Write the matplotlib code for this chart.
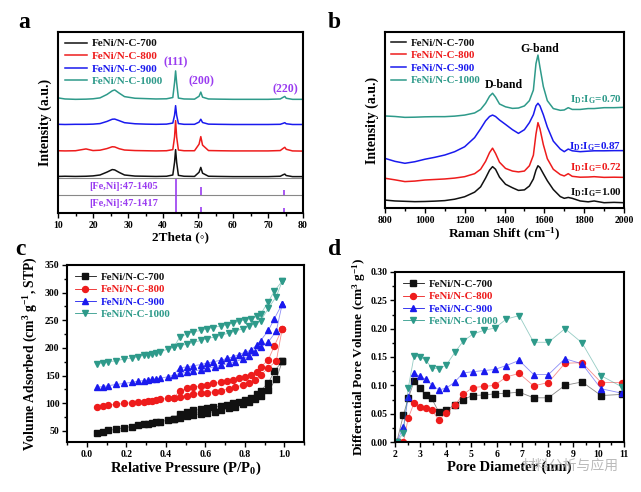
import matplotlib
matplotlib.use("Agg")
import matplotlib.pyplot as plt
from matplotlib.ticker import MultipleLocator

plt.rcParams['font.family'] = ['Liberation Serif', 'Noto Sans CJK SC', 'DejaVu Sans']
plt.rcParams['font.weight'] = 'bold'
plt.rcParams['axes.labelweight'] = 'bold'
plt.rcParams['mathtext.fontset'] = 'custom'
plt.rcParams['mathtext.rm'] = 'Liberation Serif:bold'
plt.rcParams['mathtext.it'] = 'Liberation Serif:bold'
plt.rcParams['mathtext.bf'] = 'Liberation Serif:bold'
plt.rcParams['mathtext.default'] = 'rm'

names = ["FeNi/N-C-700", "FeNi/N-C-800", "FeNi/N-C-900", "FeNi/N-C-1000"]
colors = ['#111111', '#ee1c1c', '#1a1aee', '#2e9a8a']
purple = '#9a3cf0'

# ---- panel a: XRD ----
xrd_x = [10, 12, 15, 18, 20, 22, 24, 25.5, 26.2, 27.5, 29, 32, 35, 38, 41, 42.8, 43.3, 43.6, 43.9, 44.4,
         46, 49, 50.3, 50.8, 51.3, 53, 56, 60, 65, 70, 73.5, 74.4, 74.8, 75.2, 77, 80]
xrd_700 = [20.2, 20.3, 20.2, 20.3, 20.5, 21.0, 22.6, 24.0, 23.8, 22.4, 21.0, 20.4, 20.3, 20.2, 20.3, 21.0, 28.0, 35.0, 28.0, 20.8,
           20.3, 20.2, 22.5, 25.2, 22.0, 20.3, 20.2, 20.1, 20.1, 20.1, 20.3, 21.2, 21.5, 20.7, 20.1, 20.1]
xrd_800 = [34.4, 34.3, 34.4, 35.4, 34.5, 34.7, 35.6, 36.6, 36.5, 35.5, 34.8, 34.5, 34.4, 34.3, 34.4, 35.0, 42.0, 51.0, 42.0, 34.8,
           34.4, 34.4, 38.0, 42.2, 37.5, 34.5, 34.4, 34.3, 34.3, 34.3, 34.5, 35.8, 36.3, 35.2, 34.3, 34.2]
xrd_900 = [49.0, 48.9, 49.0, 49.0, 49.1, 49.4, 50.6, 51.8, 51.9, 51.0, 49.9, 49.3, 49.1, 49.0, 49.1, 49.7, 54.0, 59.3, 54.0, 49.4,
           49.0, 49.0, 50.2, 51.8, 50.0, 49.1, 49.0, 48.9, 48.9, 48.9, 49.0, 49.6, 49.9, 49.3, 48.9, 48.9]
xrd_1000 = [63.6, 63.0, 62.8, 62.9, 63.1, 63.6, 65.5, 67.5, 68.0, 66.2, 64.3, 63.4, 63.2, 63.0, 63.1, 63.8, 72.0, 78.5, 72.0, 63.5,
            63.0, 62.9, 64.5, 66.8, 64.0, 63.0, 62.9, 62.8, 62.8, 62.8, 63.0, 64.0, 64.4, 63.4, 62.8, 62.8]
ref_peaks = [43.6, 50.8, 74.7]
ref_1405 = [19.0, 14.5, 12.5]
ref_1417 = [10.0, 3.5, 2.5]

# ---- panel b: Raman ----
ram_x = [800, 850, 900, 950, 1000, 1050, 1100, 1150, 1200, 1250, 1280, 1305, 1325, 1340, 1355, 1375, 1405, 1440, 1470,
         1500, 1525, 1545, 1558, 1568, 1578, 1595, 1615, 1645, 1680, 1700, 1720, 1740, 1780, 1820, 1850, 1900, 1950, 2000]
ram_700 = [4.5, 4.0, 3.8, 3.6, 3.7, 3.9, 4.2, 5.0, 6.4, 9.0, 12.0, 17.0, 21.5, 23.5, 22.0, 17.5, 13.5, 11.5, 10.0,
           10.3, 12.5, 16.5, 21.5, 24.0, 23.0, 19.5, 15.5, 10.5, 6.5, 5.5, 6.0, 5.5, 4.0, 3.5, 4.0, 3.0, 3.2, 3.0]
ram_800 = [16.9, 16.0, 15.0, 15.3, 15.9, 16.2, 16.5, 17.0, 17.8, 19.5, 22.0, 26.5, 31.5, 34.0, 31.0, 26.0, 22.5, 21.0, 20.5,
           21.0, 24.0, 30.0, 42.0, 48.5, 45.0, 36.0, 28.0, 22.0, 19.0, 18.2, 19.5, 18.0, 17.5, 17.6, 17.8, 17.4, 17.5, 17.4]
ram_900 = [28.2, 26.5, 25.4, 26.3, 27.7, 28.8, 30.1, 32.0, 34.8, 40.0, 45.0, 49.5, 52.0, 52.8, 52.0, 50.0, 47.5, 44.5, 42.4,
           44.5, 48.5, 53.0, 58.0, 59.5, 58.0, 53.0, 46.0, 38.0, 33.5, 32.0, 33.5, 32.5, 32.0, 32.3, 32.5, 32.5, 32.6, 32.6]
ram_1000 = [52.3, 52.0, 51.5, 51.6, 51.8, 51.9, 51.9, 52.2, 52.8, 54.0, 56.0, 59.5, 63.5, 65.2, 63.0, 59.1, 57.5, 56.6, 56.8,
            58.0, 61.0, 67.0, 82.0, 86.9, 80.0, 69.0, 61.0, 56.5, 55.5, 55.7, 57.0, 56.0, 56.0, 56.5, 56.5, 57.0, 57.0, 57.2]
ratio_labels = ["1.00", "0.72", "0.87", "0.70"]
ratio_y = [8.7, 22.9, 34.8, 61.4]

# ---- panel c: N2 isotherms ----
ads_p = [0.05, 0.08, 0.11, 0.15, 0.19, 0.23, 0.26, 0.29, 0.31, 0.33, 0.35, 0.37, 0.41, 0.44, 0.47,
         0.51, 0.54, 0.58, 0.61, 0.65, 0.68, 0.72, 0.75, 0.79, 0.82, 0.85, 0.88, 0.92, 0.96, 0.99]
des_p = [0.99, 0.95, 0.92, 0.88, 0.86, 0.83, 0.80, 0.77, 0.74, 0.71, 0.68, 0.64, 0.61, 0.58, 0.54, 0.51, 0.47, 0.44]
ads_700 = [46, 48, 51, 53, 56, 58, 60, 62, 63, 64, 66, 67, 69, 71, 74, 77, 79, 81, 83, 85, 88, 91, 94, 99, 103, 108, 114, 124, 144, 176]
des_700 = [176, 158, 137, 123, 117, 110, 106, 103, 100, 97, 95, 93, 91, 89, 87, 84, 80, 71]
ads_800 = [93, 95, 97, 98, 100, 101, 102, 103, 104, 105, 106, 107, 109, 110, 112, 114, 116, 118, 119, 121, 123, 126, 129, 133, 137, 142, 151, 164, 177, 235]
des_800 = [235, 204, 179, 165, 157, 152, 148, 145, 142, 140, 138, 136, 133, 131, 129, 127, 122, 110]
ads_900 = [129, 130, 132, 134, 136, 138, 140, 141, 142, 143, 144, 145, 148, 151, 154, 156, 158, 161, 163, 166, 169, 172, 175, 180, 185, 193, 201, 211, 231, 280]
des_900 = [280, 253, 232, 213, 205, 196, 192, 188, 184, 181, 178, 175, 173, 170, 168, 166, 164, 152]
ads_1000 = [171, 173, 175, 177, 180, 182, 184, 187, 188, 190, 191, 193, 198, 201, 204, 207, 210, 214, 217, 220, 223, 227, 230, 235, 239, 244, 249, 272, 293, 321]
des_1000 = [321, 303, 284, 261, 257, 253, 251, 248, 245, 242, 240, 237, 235, 232, 229, 226, 219, 201]

# ---- panel d: pore size distribution ----
pore_d = [2.07, 2.33, 2.52, 2.75, 2.97, 3.2, 3.44, 3.72, 4.02, 4.35, 4.68, 5.05, 5.48, 5.92, 6.38, 6.88, 7.45, 8.03, 8.68, 9.35, 10.1, 10.93]
pv_700 = [0, 0.048, 0.077, 0.107, 0.095, 0.083, 0.077, 0.053, 0.056, 0.066, 0.075, 0.082, 0.083, 0.085, 0.086, 0.088, 0.078, 0.078, 0.100, 0.106, 0.082, 0.084]
pv_800 = [0, 0, 0.042, 0.069, 0.062, 0.060, 0.057, 0.039, 0.051, 0.065, 0.084, 0.096, 0.098, 0.100, 0.115, 0.121, 0.099, 0.105, 0.139, 0.140, 0.105, 0.105]
pv_900 = [0, 0.026, 0.079, 0.121, 0.116, 0.111, 0.101, 0.092, 0.095, 0.106, 0.122, 0.124, 0.126, 0.128, 0.135, 0.144, 0.119, 0.119, 0.147, 0.138, 0.094, 0.086]
pv_1000 = [0, 0.016, 0.095, 0.152, 0.150, 0.145, 0.131, 0.129, 0.136, 0.158, 0.178, 0.190, 0.197, 0.201, 0.217, 0.223, 0.176, 0.176, 0.200, 0.175, 0.117, 0.097]

W, H = 641, 492
fig = plt.figure(figsize=(W / 100, H / 100), dpi=100)


def px_axes(l, t, r, b):
    return fig.add_axes([l / W, 1 - b / H, (r - l) / W, (b - t) / H])


def style(ax, fs=7):
    for s in ax.spines.values():
        s.set_linewidth(1.5)
    ax.tick_params(which='both', direction='out', labelsize=fs, width=1.0, pad=2)
    ax.tick_params(which='major', length=3.5)
    ax.tick_params(which='minor', length=2)


def color_legend(leg):
    for t, c in zip(leg.get_texts(), colors):
        t.set_color(c)


# a
axa = px_axes(58, 32, 303, 213)
for ys, c, n in zip([xrd_700, xrd_800, xrd_900, xrd_1000], colors, names):
    axa.plot(xrd_x, ys, color=c, lw=1.1, label=n)
axa.axhline(19.3, color='#888888', lw=0.8)
axa.axhline(10.0, color='#888888', lw=0.8)
axa.vlines(ref_peaks, [10.2] * 3, ref_1405, color=purple, lw=1.2)
axa.vlines(ref_peaks, [0] * 3, ref_1417, color=purple, lw=1.2)
axa.text(19, 14.5, "[Fe,Ni]:47-1405", color=purple, fontsize=7.5, va='center')
axa.text(19, 5.0, "[Fe,Ni]:47-1417", color=purple, fontsize=7.5, va='center')
for lab, xx, yy in zip(["(111)", "(200)", "(220)"], [43.6, 51.0, 75.0], [83, 72.5, 68.5]):
    axa.text(xx, yy, lab, color=purple, fontsize=8.5, ha='center', va='center')
axa.set_xlim(10, 80)
axa.set_ylim(0, 100)
axa.set_yticks([])
axa.xaxis.set_major_locator(MultipleLocator(10))
axa.xaxis.set_minor_locator(MultipleLocator(5))
axa.set_xlabel("2Theta (◦)", fontsize=9.5, labelpad=1)
axa.set_ylabel("Intensity (a.u.)", fontsize=10, labelpad=4)
style(axa)
leg = axa.legend(loc='upper left', fontsize=8, handlelength=2.0, handletextpad=0.4, labelspacing=0.25,
                 borderaxespad=0.2, frameon=False)
color_legend(leg)

# b
axb = px_axes(385, 32, 624, 208)
for ys, c, n in zip([ram_700, ram_800, ram_900, ram_1000], colors, names):
    axb.plot(ram_x, ys, color=c, lw=1.1, label=n)
for lab, yy, c in zip(ratio_labels, ratio_y, colors):
    axb.text(1988, yy, "I$_D$:I$_G$=" + lab, color=c, fontsize=8, ha='right', va='center')
axb.text(1397, 70, "D-band", fontsize=8.5, ha='center', va='center')
axb.text(1578, 90.5, "G-band", fontsize=8.5, ha='center', va='center')
axb.set_xlim(800, 2000)
axb.set_ylim(0, 100)
axb.set_yticks([])
axb.xaxis.set_major_locator(MultipleLocator(200))
axb.xaxis.set_minor_locator(MultipleLocator(100))
axb.set_xlabel("Raman Shift (cm$^{-1}$)", fontsize=9.5, labelpad=1)
axb.set_ylabel("Intensity (a.u.)", fontsize=10, labelpad=4)
style(axb)
leg = axb.legend(loc='upper left', fontsize=7.8, handlelength=1.4, handletextpad=0.4, labelspacing=0.28,
                 borderaxespad=0.15, frameon=False)
color_legend(leg)

# c
axc = px_axes(67, 265, 304, 442)
markers = ['s', 'o', '^', 'v']
for ads, des, c, m, n in zip([ads_700, ads_800, ads_900, ads_1000], [des_700, des_800, des_900, des_1000],
                             colors, markers, names):
    axc.plot(ads_p + des_p, ads + des, color=c, lw=0.6, alpha=0.5)
    axc.plot(ads_p + des_p, ads + des, ls='none', marker=m, ms=4.3, color=c)
    axc.plot([], [], color=c, lw=0.6, marker=m, ms=4.3, label=n)
axc.set_xlim(-0.1, 1.1)
axc.set_ylim(30, 350)
axc.xaxis.set_major_locator(MultipleLocator(0.2))
axc.xaxis.set_minor_locator(MultipleLocator(0.1))
axc.yaxis.set_major_locator(MultipleLocator(50))
axc.yaxis.set_minor_locator(MultipleLocator(25))
axc.set_xlabel("Relative Pressure (P/P$_0$)", fontsize=10.5, labelpad=1)
axc.set_ylabel("Volume Adsorbed (cm$^3$ g$^{-1}$, STP)", fontsize=9.8)
axc.yaxis.set_label_coords(-0.115, 0.5)
style(axc)
leg = axc.legend(loc='upper left', fontsize=7.8, handlelength=2.0, handletextpad=0.4, labelspacing=0.25,
                 borderaxespad=0.3, frameon=False)
color_legend(leg)

# d
axd = px_axes(395, 272, 624, 442)
for ys, c, m, n in zip([pv_700, pv_800, pv_900, pv_1000], colors, markers, names):
    axd.plot(pore_d, ys, color=c, lw=0.6, alpha=0.5)
    axd.plot(pore_d, ys, ls='none', marker=m, ms=4.3, color=c)
    axd.plot([], [], color=c, lw=0.6, marker=m, ms=4.3, label=n)
axd.set_xlim(2, 11)
axd.set_ylim(0, 0.30)
axd.xaxis.set_major_locator(MultipleLocator(1))
axd.xaxis.set_minor_locator(MultipleLocator(0.5))
axd.yaxis.set_major_locator(MultipleLocator(0.05))
axd.yaxis.set_minor_locator(MultipleLocator(0.025))
axd.yaxis.set_major_formatter(matplotlib.ticker.FormatStrFormatter('%.2f'))
axd.set_xlabel("Pore Diameter (nm)", fontsize=10.5, labelpad=1)
axd.set_ylabel("Differential Pore Volume (cm$^3$ g$^{-1}$)", fontsize=9.5, labelpad=2)
style(axd)
leg = axd.legend(loc='upper left', fontsize=7.8, handlelength=2.0, handletextpad=0.4, labelspacing=0.25,
                 borderaxespad=0.3, frameon=False)
color_legend(leg)

# panel letters
for lab, x, y in [("a", 18, 28), ("b", 328, 28), ("c", 15, 255), ("d", 328, 255)]:
    fig.text(x / W, 1 - y / H, lab, fontsize=17, fontweight='bold', ha='left', va='baseline')

# watermark
fig.text(570 / W, 1 - 466 / H, "材料分析与应用", fontsize=10, color='#aaaaaa', alpha=0.8,
         family=['Noto Sans CJK SC'], fontweight='normal', ha='center', va='center')

fig.savefig("out.png", dpi=100)
